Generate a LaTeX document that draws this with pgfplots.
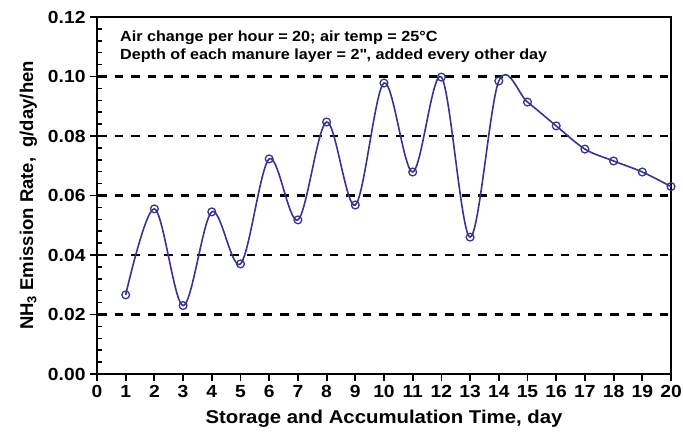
\documentclass[border=0pt]{standalone}
\usepackage{fontspec}
\setmainfont{Liberation Sans}[FakeStretch=1.1]
\newfontfamily\ylfont{Liberation Sans}
\usepackage{pgfplots}
\pgfplotsset{compat=1.18}
\definecolor{linecol}{RGB}{55,52,145}
\begin{document}
\begin{tikzpicture}[x=1pt,y=1pt]
\path[use as bounding box] (-97,-64) rectangle (586,374);
\begin{axis}[
  at={(0,0)}, anchor=south west,
  scale only axis, width=574pt, height=357pt,
  xmin=0, xmax=20, ymin=0, ymax=0.12,
  xtick={0,...,20},
  ytick={0,0.02,...,0.12},
  minor y tick num=4,
  xtick pos=left, ytick pos=left,
  tick align=outside,
  major tick length=7pt, minor tick length=5pt,
  every tick/.style={black, line width=1.8pt},
  minor y tick style={xshift=5pt, line width=1.5pt},
  axis line style={line width=2.2pt},
  /pgf/number format/assume math mode=true,
  yticklabel style={/pgf/number format/fixed, /pgf/number format/fixed zerofill, /pgf/number format/precision=2, xshift=-1pt},
  scaled y ticks=false,
  tick label style={font=\fontsize{17.5}{20}\selectfont\bfseries},
  xticklabel style={yshift=-1pt},
  xlabel={Storage and Accumulation Time, day},
  ylabel={NH\textsubscript{3} Emission Rate,\ \ g/day/hen},
  xlabel style={font=\fontsize{18.5}{21}\selectfont\bfseries, yshift=-5pt},
  ylabel style={font=\ylfont\fontsize{18.5}{21}\selectfont\bfseries, yshift=4pt},
  clip=false,
]
\foreach \yy in {0.02,0.04,0.06,0.08,0.10} {
  \edef\tmp{\noexpand\draw[black, line width=2.4pt, dash pattern=on 8.5pt off 8pt] (axis cs:0,\yy) ++(1.5pt,0) -- (axis cs:20,\yy);}
  \tmp
}
\addplot[color=linecol, line width=1.6pt, smooth, tension=0.55,
  mark=o, mark size=3.9pt, mark options={fill=white, line width=1.3pt}]
coordinates {
(1,0.0266) (2,0.0555) (3,0.0230) (4,0.0545) (5,0.0370)
(6,0.0723) (7,0.0518) (8,0.0847) (9,0.0568) (10,0.0978)
(11,0.0679) (12,0.0998) (13,0.0460) (14,0.0985) (15,0.0914)
(16,0.0834) (17,0.0756) (18,0.0716) (19,0.0679) (20,0.0630)
};
\node[anchor=north west, align=left, font=\fontsize{14.7}{18}\selectfont\bfseries, inner sep=0pt]
  at (axis cs:0.8,0.1155) {Air change per hour = 20; air temp = 25\textdegree C\\Depth of each manure layer = 2\textquotedbl, added every other day};
\end{axis}
\end{tikzpicture}
\end{document}
